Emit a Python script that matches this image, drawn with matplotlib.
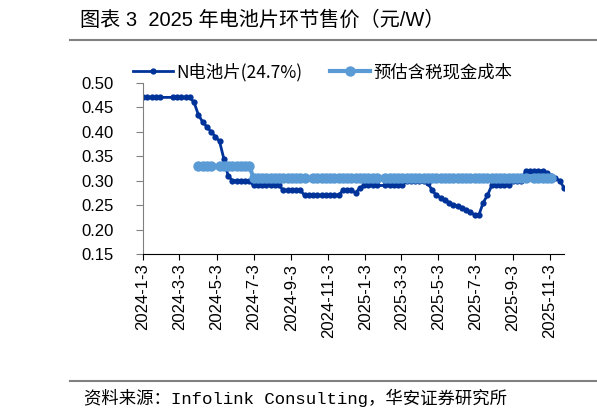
import numpy as np
import pandas as pd
import matplotlib
matplotlib.use("Agg")
import matplotlib.pyplot as plt
from matplotlib.lines import Line2D

plt.rcParams['font.family'] = ['Liberation Sans', 'Noto Sans CJK SC', 'DejaVu Sans']

# weekly price dates (Infolink, Wednesday)
weeks = pd.date_range('2024-01-03', periods=100, freq='7D')

# N-type cell price, RMB/W (None = no quote that week)
n_cell = [
    0.47, 0.47, 0.47, 0.47, 0.47, None, None, 0.47, 0.47, 0.47,
    0.47, 0.47, 0.46, 0.435, 0.42, 0.41, 0.40, 0.39, 0.38, 0.345,
    0.31, 0.30, 0.30, 0.30, 0.30, 0.30, 0.29, 0.29, 0.29, 0.29,
    0.29, 0.29, 0.29, 0.28, 0.28, 0.28, 0.28, 0.28, 0.27, 0.27,
    0.27, 0.27, 0.27, 0.27, 0.27, 0.27, 0.27, 0.28, 0.28, 0.28,
    0.275, 0.285, 0.29, 0.29, 0.29, 0.29, None, 0.29, 0.29, 0.29,
    0.29, 0.29, 0.30, 0.30, 0.30, 0.30, 0.30, 0.295, 0.28, 0.27,
    0.265, 0.26, 0.255, 0.25, 0.248, 0.245, 0.24, 0.235, 0.23, 0.23,
    0.255, 0.27, 0.29, 0.29, 0.29, 0.29, 0.29, 0.30, 0.30, 0.30,
    0.32, 0.32, 0.32, 0.32, 0.32, 0.315, 0.31, 0.305, 0.30, 0.285,
]

# estimated cash cost incl. tax
cash_cost = [
    None, None, None, None, None, None, None, None, None, None,
    None, None, None, 0.33, 0.33, 0.33, 0.33, None, 0.33, 0.33,
    0.33, 0.33, 0.33, 0.33, 0.33, 0.33, 0.305, 0.305, 0.305, 0.305,
    0.305, 0.305, 0.305, 0.305, 0.305, 0.305, 0.305, 0.305, 0.305, None,
    0.305, 0.305, 0.305, 0.305, 0.305, 0.305, 0.305, 0.305, 0.305, 0.305,
    0.305, 0.305, 0.305, 0.305, 0.305, 0.305, None, 0.305, 0.305, 0.305,
    0.305, 0.305, 0.305, 0.305, 0.305, 0.305, 0.305, 0.305, 0.305, 0.305,
    0.305, 0.305, 0.305, 0.305, 0.305, 0.305, 0.305, 0.305, 0.305, 0.305,
    0.305, 0.305, 0.305, 0.305, 0.305, 0.305, 0.305, 0.305, 0.305, 0.305,
    0.305, None, 0.305, 0.305, 0.305, 0.305, 0.305, None, None, None,
]

tick_labels = ['2024-1-3', '2024-3-3', '2024-5-3', '2024-7-3', '2024-9-3', '2024-11-3',
               '2025-1-3', '2025-3-3', '2025-5-3', '2025-7-3', '2025-9-3', '2025-11-3']
y_ticks = [0.15, 0.20, 0.25, 0.30, 0.35, 0.40, 0.45, 0.50]

label_n = 'N电池片(24.7%)'
label_cost = '预估含税现金成本'

s_cell = pd.Series(n_cell, index=weeks, dtype=float).dropna()
s_cost = pd.Series(cash_cost, index=weeks, dtype=float).dropna()

W, H = 597, 417
fig = plt.figure(figsize=(W / 100, H / 100), dpi=100)
ax = fig.add_axes([143 / W, 1 - 254 / H, (564 - 143) / W, (254 - 82.7) / H])

ax.plot(s_cell.index, s_cell.values, color='#003399', lw=2, marker='o',
        ms=4.5, mew=0, label=label_n, zorder=2)
ax.plot(s_cost.index, s_cost.values, color='#5b9bd5', lw=3, marker='o',
        ms=7.5, mew=0, label=label_cost, zorder=3)

ax.set_xlim(weeks[0], weeks[-1])
ax.set_ylim(0.15, 0.50)
ax.set_yticks(y_ticks)
ax.set_yticklabels(['%.2f' % v for v in y_ticks])
ax.set_xticks(pd.to_datetime(tick_labels))
ax.set_xticklabels(tick_labels, rotation=90)

for sp in ['top', 'right']:
    ax.spines[sp].set_visible(False)
ax.spines['left'].set_color('#808080')
ax.spines['bottom'].set_color('#000000')
ax.tick_params(axis='y', direction='out', length=5, color='#808080',
               labelsize=12, pad=16)
ax.tick_params(axis='x', direction='out', length=4, color='#000000',
               labelsize=12, pad=3)

ax.legend(loc='center left', bbox_to_anchor=(133 / W, 1 - 72 / H),
          bbox_transform=fig.transFigure, ncol=2, frameon=False,
          handlelength=2.3, handletextpad=0.2,
          columnspacing=1.6, borderpad=0, borderaxespad=0,
          prop={'family': ['Noto Sans CJK SC'], 'size': 12.5})

# header and footer
fig.text(80 / W, 1 - 20 / H, '图表 3  2025 年电池片环节售价（元/W）',
         family=['Liberation Sans', 'Noto Sans CJK SC'], fontsize=14.5,
         va='center', ha='left')
fig.add_artist(Line2D([70 / W, 1], [1 - 40 / H] * 2, color='#808080', lw=1.5))
fig.add_artist(Line2D([70 / W, 1], [1 - 381 / H] * 2, color='#808080', lw=1.5))
fig.text(84 / W, 1 - 398 / H, '资料来源：Infolink Consulting，华安证券研究所',
         family=['Liberation Mono', 'Noto Sans CJK SC'], fontsize=12.5,
         va='center', ha='left')

fig.savefig('out.png', dpi=100)
